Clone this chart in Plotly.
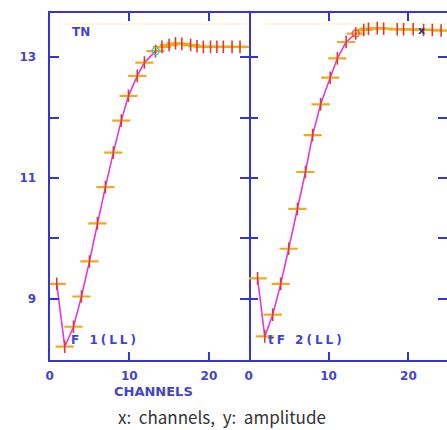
import plotly.graph_objects as go

# ---- data ----
ch1 = [0.9, 1.9, 3.0, 4.0, 5.0, 6.0, 7.0, 8.0, 9.0, 9.9, 11.0, 11.9, 13.3,
       14.1, 15.0, 15.8, 16.6, 17.7, 18.5, 19.3, 20.2, 21.0, 21.8, 22.9, 23.9]
amp1 = [9.25, 8.21, 8.54, 9.04, 9.62, 10.25, 10.85, 11.42, 11.95, 12.36, 12.69, 12.91, 13.10,
        13.17, 13.20, 13.23, 13.22, 13.20, 13.18, 13.17, 13.17, 13.17, 13.17, 13.17, 13.17]
ch2 = [1.1, 2.0, 3.0, 4.0, 5.0, 6.1, 7.1, 8.0, 9.0, 10.2, 11.1, 12.2, 13.4,
       14.4, 15.0, 16.1, 16.9, 18.6, 19.4, 20.6, 21.9, 23.0, 24.1]
amp2 = [9.34, 8.38, 8.74, 9.25, 9.83, 10.49, 11.10, 11.71, 12.22, 12.66, 12.98, 13.25, 13.39,
        13.45, 13.47, 13.48, 13.47, 13.46, 13.46, 13.46, 13.45, 13.45, 13.44]
rise1 = 13   # points drawn with the magenta curve
rise2 = 13
top_line = 13.55
x_ticks = [0, 10, 20]
y_ticks = [9, 10, 11, 12, 13]
y_labels = ["9", "", "11", "", "13"]
panel_labels = ["F 1(LL)", "F 2(LL)"]

W, H = 447, 430
BLUE = "#3434d8"
TXT = "#4343cc"
MAG = "#e03ad8"
ORANGE = "#f2a81e"
RED = "#d83a3a"
YEL = "#f7e24a"

fig = go.Figure()

def add_panel(xs, ys, n_rise, xa, ya, xmax):
    fig.add_trace(go.Scatter(x=xs[:n_rise], y=ys[:n_rise], mode="lines",
                             line=dict(color=MAG, width=1.6),
                             xaxis=xa, yaxis=ya, showlegend=False))
    fig.add_trace(go.Scatter(x=xs[n_rise - 1:] + [xmax], y=ys[n_rise - 1:] + [ys[-1]],
                             mode="lines", line=dict(color=YEL, width=2),
                             xaxis=xa, yaxis=ya, showlegend=False))
    fig.add_trace(go.Scatter(x=[xs[1], xmax], y=[top_line, top_line], mode="lines",
                             line=dict(color="#fbf3cc", width=1.5),
                             xaxis=xa, yaxis=ya, showlegend=False))
    fig.add_trace(go.Scatter(x=xs, y=ys, mode="markers",
                             marker=dict(symbol="line-ew", size=13,
                                         line=dict(color=ORANGE, width=2.2)),
                             xaxis=xa, yaxis=ya, showlegend=False))
    fig.add_trace(go.Scatter(x=xs, y=ys, mode="markers",
                             marker=dict(symbol="line-ns", size=9,
                                         line=dict(color=RED, width=1.6)),
                             xaxis=xa, yaxis=ya, showlegend=False))
    fig.add_trace(go.Scatter(x=[xs[n_rise - 1]], y=[ys[n_rise - 1]], mode="markers",
                             marker=dict(symbol="circle-open", size=7,
                                         line=dict(color=MAG, width=1.3)),
                             xaxis=xa, yaxis=ya, showlegend=False))

add_panel(ch1, amp1, rise1, "x", "y", 25)
add_panel(ch2, amp2, rise2, "x2", "y2", 24.84)

tickfont = dict(family="DejaVu Sans", size=12, color=TXT, weight="bold")
common_x = dict(showline=True, linecolor=BLUE, linewidth=2, mirror="ticks",
                ticks="inside", ticklen=8, tickwidth=1.6, tickcolor=BLUE,
                tickvals=x_ticks, ticktext=[str(v) for v in x_ticks],
                tickfont=tickfont, showgrid=False, zeroline=False)
common_y = dict(showline=True, linecolor=BLUE, linewidth=2,
                ticks="inside", ticklen=9, tickwidth=1.6, tickcolor=BLUE,
                tickvals=y_ticks, ticktext=y_labels, range=[7.99, 13.73],
                tickfont=tickfont, showgrid=False, zeroline=False)

d_left = [46 / W, 247 / W]
d_right = [247 / W, 1.0]
d_y = [1 - 360 / H, 1 - 13 / H]

fig.update_layout(
    width=W, height=H, margin=dict(l=0, r=0, t=0, b=0),
    paper_bgcolor="white", plot_bgcolor="white",
    xaxis=dict(common_x, domain=d_left, range=[0, 25], anchor="y", ticklabelstandoff=4),
    yaxis=dict(common_y, domain=d_y, anchor="x", mirror="ticks", ticklabelstandoff=9),
    xaxis2=dict(common_x, domain=d_right, range=[0, 24.84], anchor="y2", ticklabelstandoff=4),
    yaxis2=dict(common_y, domain=d_y, anchor="x2", mirror=False, showline=False,
                showticklabels=False),
    # right-hand ticks of the clipped second panel (no border line visible there)
    yaxis3=dict(common_y, domain=d_y, anchor="x2", overlaying="y2", side="right",
                showline=False, showticklabels=False),
)
# invisible trace to activate yaxis3
fig.add_trace(go.Scatter(x=[ch2[0]], y=[amp2[0]], mode="markers", marker=dict(opacity=0),
                         xaxis="x2", yaxis="y3", showlegend=False, hoverinfo="skip"))

def px(x):
    return x / W

def py(y):
    return 1 - y / H

lab_font = dict(family="DejaVu Sans", size=12, color=TXT)
ann = [
    dict(x=px(67), y=py(32), text="<b>TN</b>", xanchor="left", yanchor="middle", font=lab_font),
    dict(x=px(66), y=py(340), text='<b><span style="letter-spacing:3px">' + panel_labels[0] + '</span></b>',
         xanchor="left", yanchor="middle", font=lab_font),
    dict(x=px(264), y=py(340), text='<b><span style="letter-spacing:3px">t' + panel_labels[1] + '</span></b>',
         xanchor="left", yanchor="middle", font=lab_font),
    dict(x=px(421), y=py(30), text="<b>x</b>", xanchor="center", yanchor="middle",
         font=dict(family="DejaVu Sans", size=11, color="#303080")),
    dict(x=px(151), y=py(391), text="<b>CHANNELS</b>", xanchor="center", yanchor="middle",
         font=dict(family="DejaVu Sans", size=13, color=TXT)),
    dict(x=px(220), y=py(430), text="x:  channels,  y:  amplitude", xanchor="center", yanchor="bottom",
         font=dict(family="Noto Sans CJK KR", size=17, color="#333333"), borderpad=0),
]
for a in ann:
    a.update(xref="paper", yref="paper", showarrow=False)
fig.update_layout(annotations=ann)

fig.write_html("out.html")
